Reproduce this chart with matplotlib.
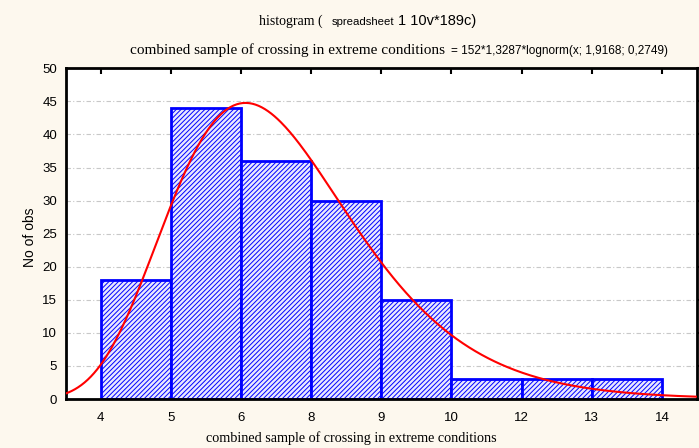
import numpy as np
import matplotlib
matplotlib.use('Agg')
import matplotlib.pyplot as plt

# histogram counts per class
counts = [18, 44, 36, 30, 15, 3, 3, 3]
edge_labels = ['4', '5', '6', '8', '9', '10', '12', '13', '14']
n_obs = 152
bin_width = 1.3287
first_edge = 3.56   # estimated from where the fitted curve sits
mu = 1.9168
sigma = 0.2749

edges = first_edge + bin_width * np.arange(len(counts) + 1)

W, H = 699, 448
plt.rcParams['hatch.linewidth'] = 0.7
fig = plt.figure(figsize=(W / 100, H / 100), dpi=100, facecolor='#fdf8ee')
ax = fig.add_axes([65.5 / W, 1 - 399 / H, (697 - 65.5) / W, (399 - 68.3) / H])
ax.set_facecolor('white')

ax.bar(edges[:-1], counts, width=bin_width, align='edge', facecolor='#e8e8ff',
       edgecolor='#0000ff', hatch='///////', linewidth=2, zorder=2)

xlo = edges[0] - bin_width / 2
xhi = edges[-1] + bin_width / 2
xs = np.linspace(xlo, xhi, 400)
pdf = np.exp(-(np.log(xs) - mu) ** 2 / (2 * sigma ** 2)) / (xs * sigma * np.sqrt(2 * np.pi))
ax.plot(xs, n_obs * bin_width * pdf, color='#ff0000', lw=1.5, zorder=3)

ax.set_xlim(xlo, xhi)
ax.set_ylim(0, 50)
ax.set_yticks(np.arange(0, 51, 5))
ax.set_xticks(edges)
ax.set_xticklabels(edge_labels)
for y in range(5, 50, 5):
    ax.axhline(y, color='#c8c8c8', lw=0.8, ls=(0, (4, 2, 1, 2)), zorder=1)

for s in ax.spines.values():
    s.set_linewidth(2)
ax.tick_params(axis='x', bottom=False, top=True, direction='in', length=4, width=1.5,
               labelsize=9.5, pad=9, labelfontfamily='Liberation Sans')
ax.tick_params(axis='y', left=False, right=True, direction='out', length=3, width=1.5,
               labelsize=9.5, pad=3, labelfontfamily='Liberation Sans')

ax.set_xlabel('combined sample of crossing in extreme conditions', family='Liberation Serif',
              fontsize=10.2)
ax.xaxis.set_label_coords((351 - 65.5) / 631.5, -0.097)
ax.set_ylabel('No of obs', family='Liberation Sans', fontsize=10)
ax.yaxis.set_label_coords(-0.045, 0.49)

def px(x, y):
    return x / W, 1 - y / H

fig.text(*px(259, 25), 'histogram (', family='Liberation Serif', fontsize=10, va='baseline')
fig.text(*px(332, 25), 'spreadsheet', family='Liberation Sans', fontsize=8.2, va='baseline')
fig.text(*px(398, 25), '1 10v*189c)', family='Liberation Sans', fontsize=10.5, va='baseline')
fig.text(*px(130, 54), 'combined sample of crossing in extreme conditions', family='Liberation Serif',
         fontsize=11, va='baseline')
fig.text(*px(451, 54), '= 152*1,3287*lognorm(x; 1,9168; 0,2749)', family='Liberation Sans',
         fontsize=8.5, va='baseline')

fig.savefig('out.png', dpi=100, facecolor=fig.get_facecolor())
